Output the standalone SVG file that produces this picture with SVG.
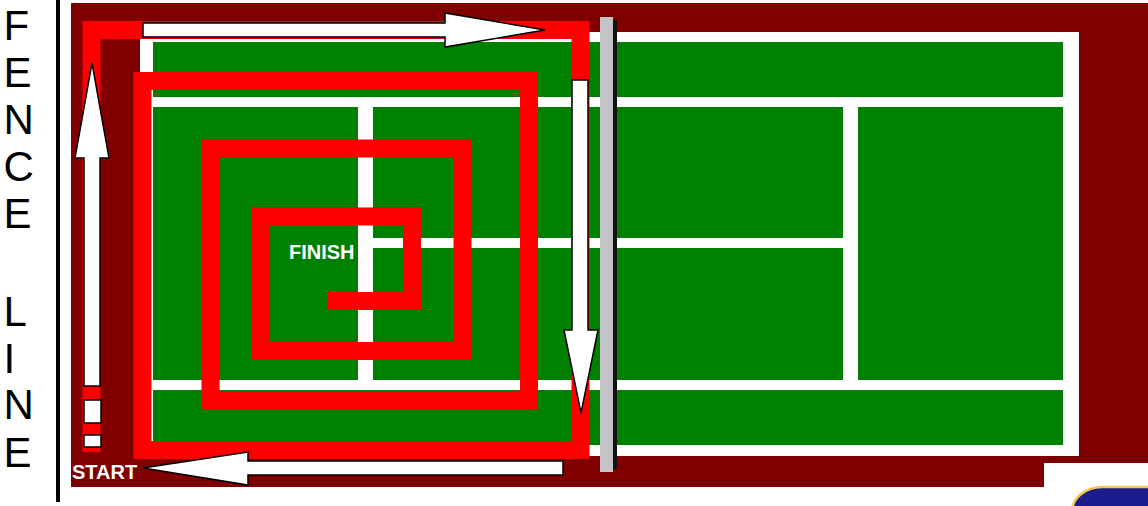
<svg xmlns="http://www.w3.org/2000/svg" width="1148" height="506" viewBox="0 0 1148 506">
<style>
.lbl{font-family:"Liberation Sans",Arial,sans-serif;font-weight:bold;font-size:20px;fill:#ffffff}
.fence{font-family:"Liberation Sans",Arial,sans-serif;font-size:42px;fill:#000000}
.line{fill:#ffffff}
.arrow{fill:#ffffff;stroke:#000000;stroke-width:1.5;stroke-linejoin:miter}
.spiral{fill:none;stroke:#ff0000;stroke-width:18;stroke-linejoin:miter;stroke-linecap:butt}
</style>
<rect x="0" y="0" width="1148" height="506" fill="#ffffff"/>
<g id="fence">
<rect x="56" y="0" width="4" height="502" fill="#000000"/>
<text class="fence" x="3.5" y="40">F</text>
<text class="fence" x="3.5" y="87">E</text>
<text class="fence" x="3.5" y="134">N</text>
<text class="fence" x="3.5" y="181">C</text>
<text class="fence" x="3.5" y="228">E</text>
<text class="fence" x="3.5" y="326">L</text>
<text class="fence" x="3.5" y="373">I</text>
<text class="fence" x="3.5" y="419">N</text>
<text class="fence" x="3.5" y="467">E</text>
</g>
<g id="surround">
<polygon points="71,3 1148,3 1148,463 1044,463 1044,487 71,487" fill="#800000"/>
</g>
<g id="court">
<rect x="140" y="32" width="939" height="424" fill="#ffffff"/>
<rect x="153" y="42" width="910" height="403" fill="#008000"/>
<rect class="line" x="153" y="97" width="910" height="10"/>
<rect class="line" x="153" y="380" width="910" height="10"/>
<rect class="line" x="358" y="107" width="15" height="273"/>
<rect class="line" x="843" y="107" width="15" height="273"/>
<rect class="line" x="373" y="238" width="470" height="10"/>
</g>
<g id="net">
<rect x="600" y="17" width="13" height="455" fill="#c4c4c8"/>
<rect x="613" y="20" width="4" height="449" fill="#111111"/>
</g>
<g id="connectors">
<path class="spiral" d="M91.5 452 L91.5 30 L580.5 30 L580.5 450 L142.5 450 L142.5 81 L529 81 L529 400.5 L210.5 400.5 L210.5 148.5 L462.5 148.5 L462.5 351 L261 351 L261 216.5 L412 216.5 L412 301 L328 301"/>
<polygon class="arrow" points="143,23 445,23 445,13 545,30 445,47 445,37 143,37"/>
<polygon class="arrow" points="572,80 588,80 588,330 598,330 581,413 564,330 572,330"/>
<polygon class="arrow" points="563,461 248,461 248,452 143,468 248,485 248,475 563,475"/>
<polygon class="arrow" points="84,386 84,158 75,158 92,63 109,158 100,158 100,386"/>
<rect class="arrow" x="84" y="400" width="17" height="23"/>
<rect class="arrow" x="84" y="435" width="17" height="12"/>
</g>
<g id="start">
<text class="lbl" x="72" y="479">START</text>
</g>
<g id="finish">
<text class="lbl" x="289" y="259">FINISH</text>
</g>
<g id="badge">
<rect x="1072" y="487" width="120" height="50" rx="30" fill="#1c1c8e" stroke="#f2c94c" stroke-width="2.5"/>
</g>
</svg>
